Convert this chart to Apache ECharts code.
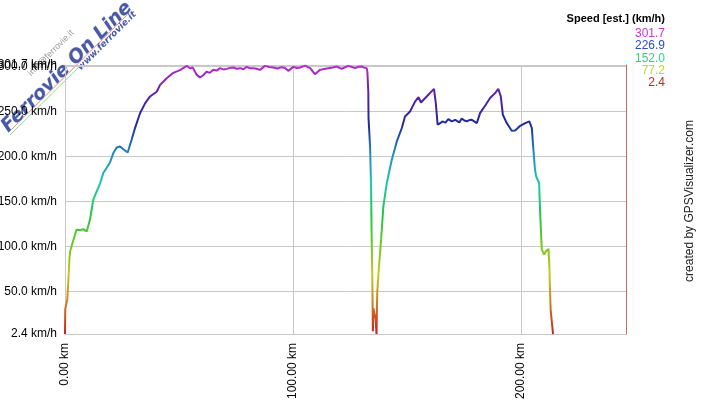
<!DOCTYPE html>
<html>
<head>
<meta charset="utf-8">
<script src="https://cdn.jsdelivr.net/npm/echarts@6/dist/echarts.min.js"></script>
<style>
html,body{margin:0;padding:0;background:#fff;}
#main{width:701px;height:400px;}
</style>
</head>
<body>
<div id="main"></div>
<script>
const distanceKm = [0,0.1,0.7,1.0,1.5,1.9,2.3,2.9,3.7,4.5,5.1,6.6,8,9.5,11,12.4,13.9,15.4,16.8,18.2,19.7,21.2,22.7,24.1,25.6,27.5,29.2,30.7,32.9,35.1,37.3,40.2,41.7,44.6,47.5,50.4,52,53.4,54.8,56,57.7,59.2,60.5,62.1,63.5,65,66.5,68,69.4,70.9,72.3,73.8,75.3,76.8,78.2,79.7,81.1,82.6,84,85.5,86.6,87.7,89.5,91.4,93.2,95,96.5,97.9,100.1,101.6,103.1,105.3,106.4,107.5,109.6,110.7,111.8,113.6,115.5,117.3,119.1,121.3,122.8,124.3,125.8,127.2,128.7,130.1,131.2,132.3,132.6,133,133.1,133.8,134.2,134.5,134.8,134.9,135.0,135.3,135.7,136.2,136.6,136.9,137.7,138.6,139.6,141.1,143.3,145.5,147.7,149.1,151.3,153.5,155,156.1,158.6,161.8,162.6,163.4,164.5,165.5,166.8,168.1,169.6,171.1,172.9,174,175.1,176.2,177.3,178.4,179.1,180.6,182,184.2,186.4,188.6,190,191.1,192,193.7,195.9,197.4,199.6,201.8,203.6,204.7,205.4,206.1,206.6,207.9,208.3,208.8,209.1,210.1,210.9,212,212.4,212.7,213,213.7,214];
const speedKmh = [2.4,30,30,41,63,85,95,96,107,114,118.5,118,119,116.5,130,152,161,170,181.5,187,193,203.7,210,211,208,204.4,218.5,231.5,248,259,266.7,272,279.6,287,293,296,298.5,300.7,298,299,291,287.8,290,294.4,293,296.3,295.5,298.2,296.8,297.4,298.5,298.9,297.5,298.2,297,299.6,298,298.2,297.6,296.3,298.5,300.7,299.5,298.9,297.8,299.3,298.4,295.2,299.6,298.3,298.9,301,299.5,298.2,291.5,294,296.3,297.3,298.2,299,300,297.4,299.2,300.7,299.4,298.2,299.7,300,298.8,298.2,294,272,242.6,209.3,166.7,105.6,55.6,29.7,5.6,31,25,20,2.4,48.2,77.8,107.4,144.4,170.4,196.3,216.7,231.6,244.4,250,261,266,260,266.7,275.2,259.3,235.2,237,238.9,237.5,241.5,238.9,240.7,237.8,242.2,240,238.9,240.5,240.7,241.5,237.1,248.2,256.3,264.9,270.4,275.2,266.7,246.3,237.1,228.6,228.9,234.1,237.1,238.9,231.6,207.4,185.2,177.8,170.4,140.8,111.1,96.3,90.8,94.4,97.1,77.8,48.2,27.8,26,2.4];
const legendTitle = 'Speed [est.] (km/h)';
const legendValues = ['301.7','226.9','152.0','77.2','2.4'];
const legendColors = ['#cc33cc','#2a4ec4','#2fcf86','#b4dc28','#cc2222'];
const speedMin = 2.4, speedMax = 301.7;
const xMax = 246;
const gradientColors = ['#c81e1e','#d2781e','#c8c81e','#6ec81e','#1ec846','#1ec8aa','#1e8cc8','#1e2a9c','#5a1ea8','#bb2acc'];

const data = distanceKm.map((d,i)=>[d, speedKmh[i]]);
const chart = echarts.init(document.getElementById('main'));
const FONT = 'Liberation Sans, Arial, sans-serif';
const WFONT = '"DejaVu Sans", Verdana, sans-serif';

const legendGraphics = [{
  type:'text', right: 36, top: 13,
  style:{text: legendTitle, font:'bold 11px ' + FONT, fill:'#000', textAlign:'right'}
}];
legendValues.forEach((v,i)=>{
  legendGraphics.push({type:'text', right: 36, top: 28 + i*12.1,
    style:{text:v, font:'12px ' + FONT, fill:legendColors[i]}});
});

const yLabelFmt = v => v.toFixed(1)+' km/h';

chart.setOption({
  animation:false,
  grid:{left:65, right:75, top:65, bottom:66, containLabel:false, outerBoundsMode:'none'},
  xAxis:{
    type:'value', min:0, max:xMax, interval:100,
    axisLine:{show:true, lineStyle:{color:'#c8c8c8'}},
    axisTick:{show:false},
    splitLine:{show:true, lineStyle:{color:'#c8c8c8'}},
    axisLabel:{rotate:90, margin:9, fontSize:12, fontFamily:FONT, color:'#000', showMaxLabel:false,
      formatter:v=>v.toFixed(2)+' km'}
  },
  yAxis:[{
    type:'value', min:speedMin, max:speedMax, splitNumber:6,
    axisLine:{show:true, lineStyle:{color:'#c8c8c8'}},
    axisTick:{show:false},
    splitLine:{show:true, lineStyle:{color:'#c8c8c8'}},
    axisLabel:{margin:8, fontSize:12, fontFamily:FONT, color:'#000', showMinLabel:true, showMaxLabel:false,
      formatter:yLabelFmt}
  },{
    type:'value', min:speedMin, max:speedMax, position:'right',
    axisLine:{show:true, lineStyle:{color:'#c06a6a'}},
    axisTick:{show:false}, axisLabel:{show:false}, splitLine:{show:false}
  },{
    type:'value', min:speedMin, max:speedMax, splitNumber:6, position:'left', offset:0,
    axisLine:{show:false}, axisTick:{show:false}, splitLine:{show:false},
    axisLabel:{margin:8, fontSize:12, fontFamily:FONT, color:'#000', showMinLabel:false, showMaxLabel:true,
      formatter:v=> v === speedMax ? yLabelFmt(v) : ''}
  }],
  visualMap:{type:'continuous', show:false, dimension:1, seriesIndex:0, min:speedMin, max:speedMax,
    inRange:{color:gradientColors}},
  series:[{type:'line', data:data, showSymbol:false, lineStyle:{width:2}}],
  graphic: legendGraphics.concat([
    {type:'text', x:690, y:201, rotation:Math.PI/2,
      style:{text:'created by GPSVisualizer.com', font:'12px ' + FONT, fill:'#222', textAlign:'center', textVerticalAlign:'middle'}},
    {type:'line', shape:{x1:8,y1:133,x2:127,y2:15}, style:{stroke:'#f08080', lineWidth:1}},
    {type:'line', shape:{x1:10,y1:135,x2:79,y2:67}, style:{stroke:'#80e080', lineWidth:1}},
    {type:'text', x:67, y:67, rotation:Math.PI/4,
      style:{text:'Ferrovie On Line', font:'oblique bold 19px ' + WFONT, fill:'#4a58a6', stroke:'#e4e7f6', lineWidth:1, textAlign:'center', textVerticalAlign:'middle'}},
    {type:'text', x:107, y:41, rotation:Math.PI/4,
      style:{text:'www.ferrovie.it', font:'oblique bold 9px ' + WFONT, fill:'#4a58a6', textAlign:'center', textVerticalAlign:'middle'}},
    {type:'text', x:51, y:53, rotation:Math.PI/4,
      style:{text:'info@ferrovie.it', font:'9px ' + FONT, fill:'#9a9a9a', textAlign:'center', textVerticalAlign:'middle'}}
  ])
});
</script>
</body>
</html>
